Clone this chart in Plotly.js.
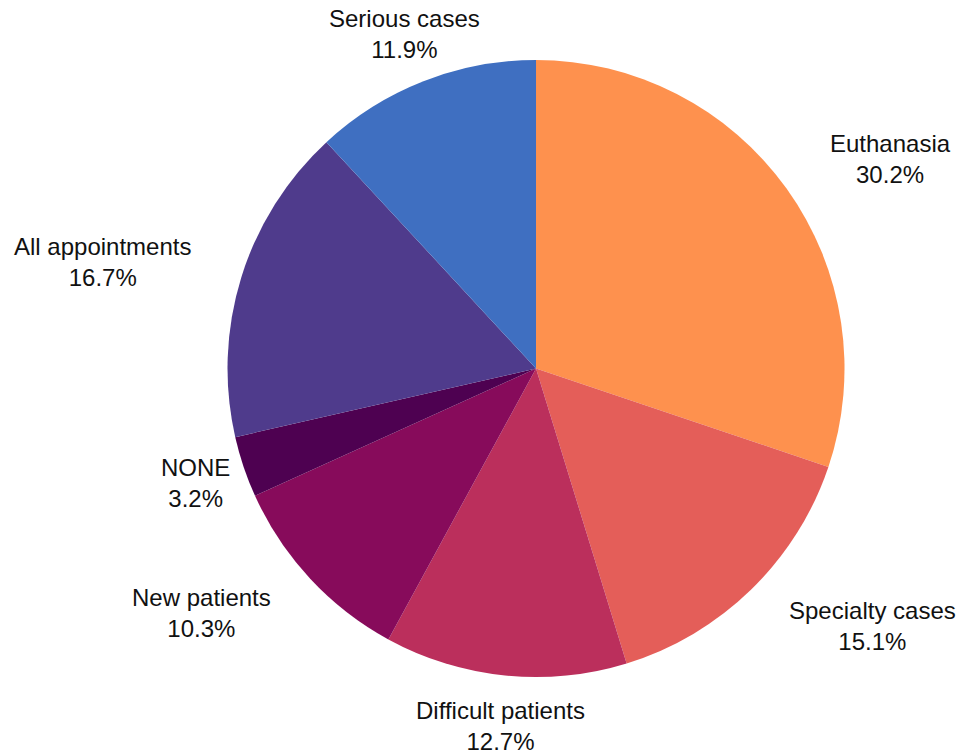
<!DOCTYPE html>
<html>
<head>
<meta charset="utf-8">
<script src="https://cdn.plot.ly/plotly-3.0.1.min.js"></script>
<style>html,body{margin:0;padding:0;background:#fff;}#chart{width:960px;height:755px;}</style>
</head>
<body>
<div id="chart"></div>
<script>
const categories = ["Euthanasia", "Specialty cases", "Difficult patients", "New patients", "NONE", "All appointments", "Serious cases"];
const shares = [30.2, 15.1, 12.7, 10.3, 3.2, 16.7, 11.9];
const colors = ["#fe914e", "#e45e59", "#bb2f5c", "#870b5b", "#4e0151", "#4f3b8c", "#3f6fc1"];

const W = 960, H = 755;
const margin = {l: 0, r: 0, t: 60, b: 78};
const domainX = [0.2, 0.9167];
const fontFamily = "Liberation Sans, Arial, sans-serif";
const fontSize = 24;
const labelDist = 1.164;

// geometry of the pie as Plotly lays it out
const plotW = W - margin.l - margin.r, plotH = H - margin.t - margin.b;
const cx = margin.l + plotW * (domainX[0] + domainX[1]) / 2;
const cy = margin.t + plotH / 2;
const R = Math.min(plotW * (domainX[1] - domainX[0]), plotH) / 2;

const ctx = document.createElement("canvas").getContext("2d");
ctx.font = fontSize + "px 'Liberation Sans'";
const total = shares.reduce((a, b) => a + b, 0);

let cum = 0;
const annotations = categories.map((name, i) => {
  const frac = shares[i] / total;
  const mid = (cum + frac / 2) * 2 * Math.PI;
  cum += frac;
  const pct = (frac * 100).toFixed(1) + "%";
  const dx = Math.sin(mid), dy = -Math.cos(mid);
  const ax = cx + dx * R * labelDist, ay = cy + dy * R * labelDist;
  const hw = Math.max(ctx.measureText(name).width, ctx.measureText(pct).width) / 2;
  const hh = fontSize * 1.2;
  // would a centred box overlap the pie?
  const nx = Math.max(ax - hw, Math.min(cx, ax + hw));
  const ny = Math.max(ay - hh, Math.min(cy, ay + hh));
  const overlaps = Math.hypot(nx - cx, ny - cy) < R;
  const xanchor = overlaps ? (dx > 0 ? "left" : "right") : "center";
  return {
    xref: "paper", yref: "paper",
    x: (ax - margin.l) / plotW,
    y: (H - margin.b - ay) / plotH,
    xanchor: xanchor, yanchor: "middle",
    text: name + "<br>" + pct,
    showarrow: false,
    align: "center",
    font: {family: fontFamily, size: fontSize, color: "#111"}
  };
});

Plotly.newPlot("chart", [{
  type: "pie",
  labels: categories,
  values: shares,
  sort: false,
  direction: "clockwise",
  rotation: 0,
  marker: {colors: colors, line: {width: 0}},
  textinfo: "none",
  hoverinfo: "label+percent",
  domain: {x: domainX, y: [0, 1]},
  automargin: false,
  showlegend: false
}], {
  width: W,
  height: H,
  margin: margin,
  paper_bgcolor: "#fff",
  showlegend: false,
  annotations: annotations
}, {displayModeBar: false, responsive: false});
</script>
</body>
</html>
